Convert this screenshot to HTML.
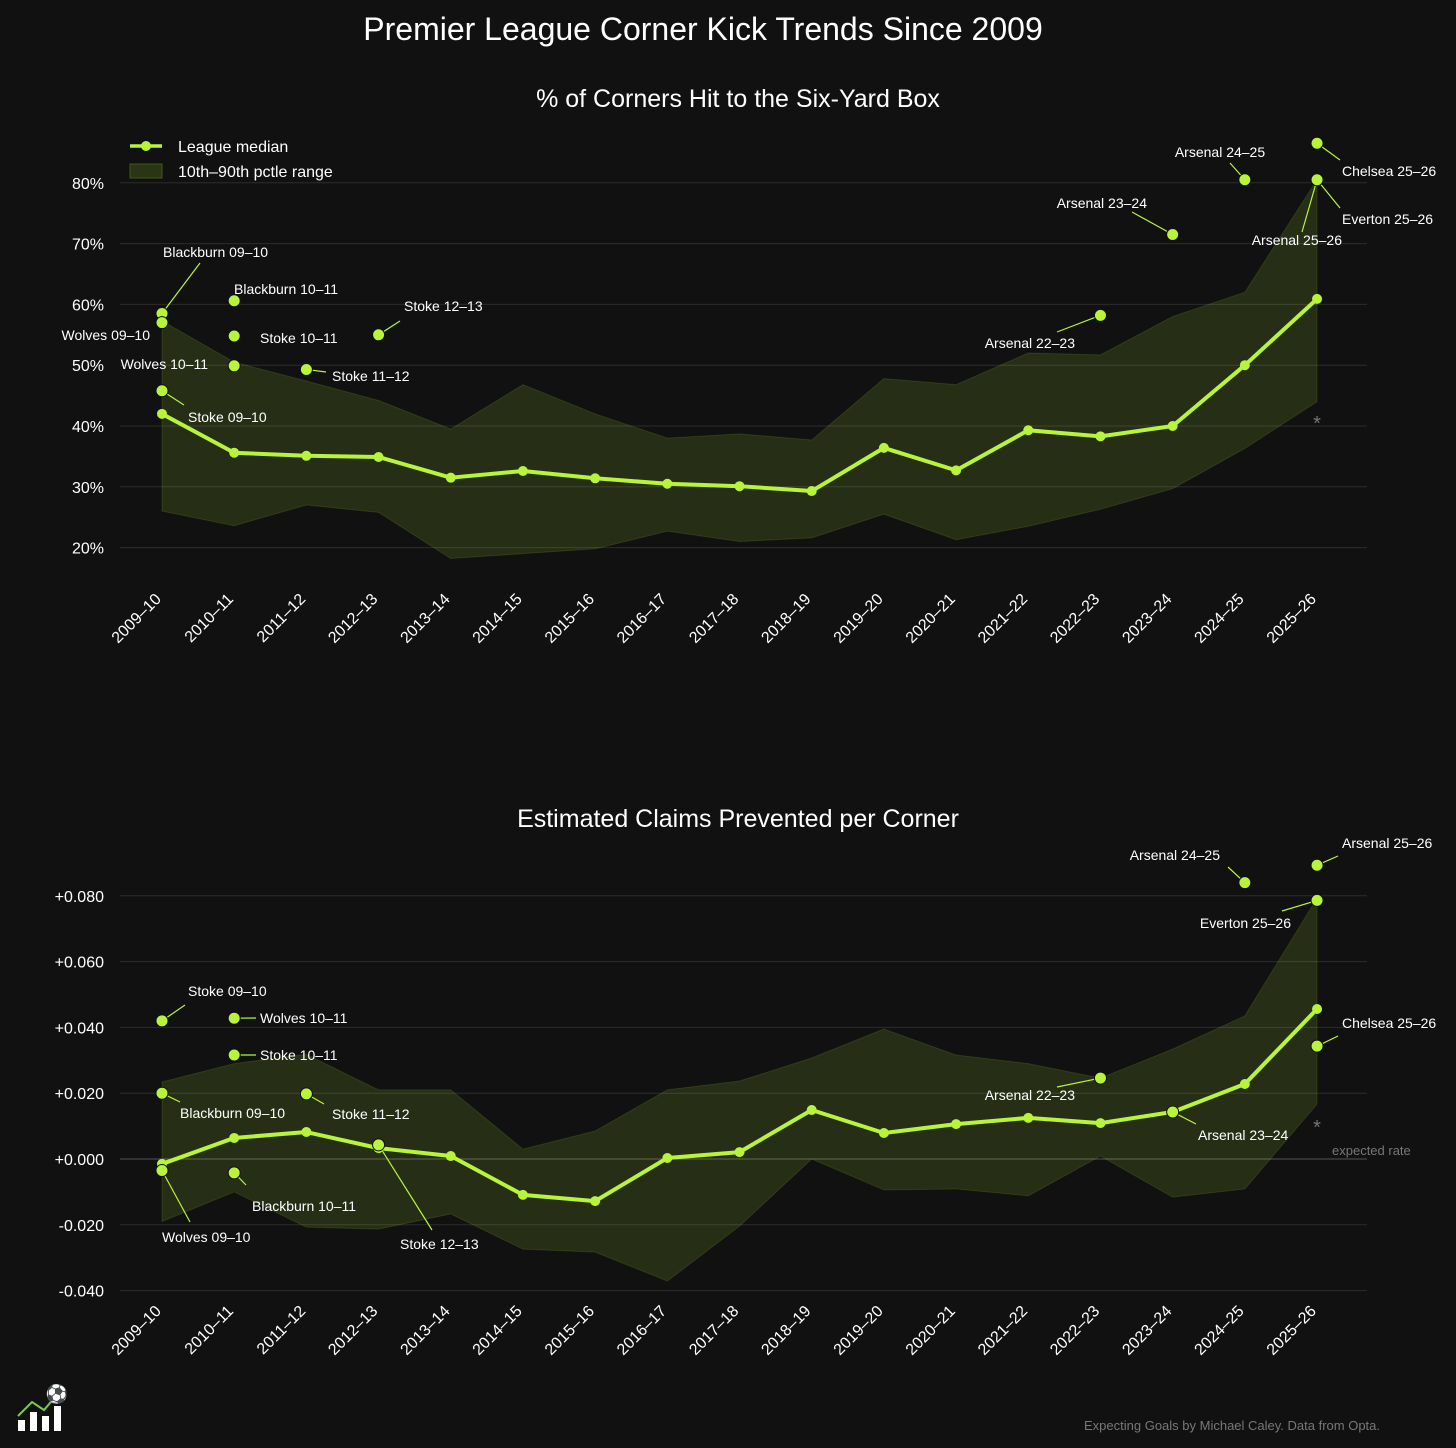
<!DOCTYPE html>
<html><head><meta charset="utf-8"><style>
html,body{margin:0;padding:0;background:#111111;}
svg{display:block;font-family:"Liberation Sans",sans-serif;}
.t{font-family:"Liberation Sans Narrow","Liberation Sans",sans-serif;fill:#fff;}
</style></head><body>
<svg id="c" width="1456" height="1448" viewBox="0 0 1456 1448" xmlns="http://www.w3.org/2000/svg">
<rect width="1456" height="1448" fill="#111111"/>
<text class="t" x="703" y="40" font-size="32" text-anchor="middle">Premier League Corner Kick Trends Since 2009</text>
<text class="t" x="738" y="107" font-size="25" text-anchor="middle">% of Corners Hit to the Six-Yard Box</text>
<text class="t" x="738" y="827" font-size="25" text-anchor="middle">Estimated Claims Prevented per Corner</text>
<g id="top"></g><g id="bot"></g>
<g>
<line x1="130" y1="146" x2="162" y2="146" stroke="#b8f53a" stroke-width="3.5"/>
<circle cx="146" cy="146" r="5" fill="#b8f53a"/>
<text x="178" y="152" fill="#fff" font-size="16">League median</text>
<rect x="130" y="164" width="32" height="14" fill="#2a3514" stroke="#45551c"/>
<text x="178" y="177" fill="#fff" font-size="16">10th–90th pctle range</text>
</g>
<text x="1380" y="1430" fill="#777" font-size="13" text-anchor="end">Expecting Goals by Michael Caley. Data from Opta.</text>
<g>
<rect x="18" y="1420" width="7" height="11" fill="#fff"/><rect x="30" y="1412" width="7" height="19" fill="#fff"/><rect x="42" y="1416" width="7" height="15" fill="#fff"/><rect x="54" y="1406" width="7" height="25" fill="#fff"/>
<polyline points="18,1416 32,1402 44,1410 56,1396" fill="none" stroke="#7ec850" stroke-width="2"/>
<text x="57" y="1400" font-size="18" text-anchor="middle" fill="#fff">⚽</text>
</g>
</svg>
<script>
const seasons=["2009–10","2010–11","2011–12","2012–13","2013–14","2014–15","2015–16","2016–17","2017–18","2018–19","2019–20","2020–21","2021–22","2022–23","2023–24","2024–25","2025–26"];
const topMedian=[42,35.6,35.1,34.9,31.5,32.6,31.4,30.5,30.1,29.3,36.4,32.7,39.3,38.3,40,50,60.9];
const topHigh=[57.3,50.5,47.4,44.2,39.5,46.8,42,38,38.7,37.7,47.8,46.8,52,51.7,58,62,80.5];
const topLow=[26,23.6,27,25.8,18.2,19,19.8,22.7,21,21.6,25.5,21.3,23.5,26.3,29.7,36.3,44];
const topTicks=[20,30,40,50,60,70,80];
const topLabels=["Blackburn 09–10","Wolves 09–10","Stoke 09–10","Blackburn 10–11","Stoke 10–11","Wolves 10–11","Stoke 11–12","Stoke 12–13","Arsenal 22–23","Arsenal 23–24","Arsenal 24–25","Chelsea 25–26","Everton 25–26","Arsenal 25–26"];
const topLabelIdx=[0,0,0,1,1,1,2,3,13,14,15,16,16,16];
const topLabelVal=[58.5,57,45.8,60.6,54.8,49.9,49.3,55,58.2,71.5,80.5,86.5,80.5,80.5];
const topLabelPos=[[163,257,"start",200,263],[150,340,"end",null],[188,422,"start",184,405],[234,294,"start",null],[260,343,"start",null],[208,369,"end",null],[332,381,"start",326,372],[404,311,"start",400,321],[1075,348,"end",1057,332],[1147,208,"end",1132,212],[1220,157,"middle",1230,163],[1342,176,"start",1340,160],[1342,224,"start",1340,208],[1342,245,"end",1302,232]];

const botMedian=[-0.0015,0.0064,0.0082,0.0033,0.0009,-0.0109,-0.0128,0.0003,0.0021,0.0149,0.0079,0.0106,0.0125,0.0109,0.0143,0.0228,0.0456];
const botHigh=[0.0234,0.029,0.0318,0.021,0.021,0.003,0.0085,0.021,0.0237,0.0307,0.0395,0.0316,0.029,0.0246,0.0334,0.0435,0.0793];
const botLow=[-0.019,-0.010,-0.0207,-0.0213,-0.0167,-0.0274,-0.0283,-0.0371,-0.0204,0,-0.0094,-0.0091,-0.0112,0.0009,-0.0116,-0.0091,0.0167];
const botTicks=[-0.04,-0.02,0,0.02,0.04,0.06,0.08];
const botLabels=["Stoke 09–10","Blackburn 09–10","Wolves 09–10","Wolves 10–11","Stoke 10–11","Blackburn 10–11","Stoke 11–12","Stoke 12–13","Arsenal 22–23","Arsenal 23–24","Arsenal 24–25","Arsenal 25–26","Everton 25–26","Chelsea 25–26"];
const botLabelIdx=[0,0,0,1,1,1,2,3,13,14,15,16,16,16];
const botLabelVal=[0.042,0.020,-0.0035,0.0428,0.0316,-0.0042,0.0198,0.0043,0.0246,0.0143,0.084,0.0893,0.0786,0.0343];
const botLabelPos=[[188,996,"start",185,1005],[180,1118,"start",180,1102],[162,1242,"start",190,1222],[260,1023,"start",256,1018],[260,1060,"start",256,1055],[252,1211,"start",246,1185],[332,1119,"start",324,1104],[400,1249,"start",432,1230],[1075,1100,"end",1057,1087],[1198,1140,"start",1196,1124],[1220,860,"end",1228,867],[1342,848,"start",1338,856],[1291,928,"end",1282,911],[1342,1028,"start",1338,1036]];

const NS="http://www.w3.org/2000/svg";
function mk(p,tag,at){const e=document.createElementNS(NS,tag);for(const k in at)e.setAttribute(k,at[k]);p.appendChild(e);return e;}
const xS=i=>162+i*72.19;
function panel(g,yS,med,hi,lo,ticks,fmt,labels,lidx,lval,lpos,tickY,zeroLine){
  ticks.forEach(t=>{
    const l=mk(g,"line",{x1:120,x2:1367,y1:yS(t),y2:yS(t),stroke:(zeroLine&&t===0)?"#555":"#2c2c2c","stroke-width":1});
    
    
    const tx=mk(g,"text",{x:104,y:yS(t)+6,fill:"#fff","font-size":16,"text-anchor":"end"});
    tx.textContent=fmt(t);
    
    
  });
  let d="";
  hi.forEach((v,i)=>{d+=(i?"L":"M")+xS(i)+","+yS(v);});
  for(let i=lo.length-1;i>=0;i--)d+="L"+xS(i)+","+yS(lo[i]);
  const band=mk(g,"path",{d:d+"Z",fill:"#b8f53a","fill-opacity":0.13,stroke:"#b8f53a","stroke-opacity":0.12});
  
  
  const ln=mk(g,"polyline",{points:med.map((v,i)=>xS(i)+","+yS(v)).join(" "),fill:"none",stroke:"#b8f53a","stroke-width":4,"stroke-linejoin":"round"});
  
  
  med.forEach((v,i)=>{
    const c=mk(g,"circle",{cx:xS(i),cy:yS(v),r:5,fill:"#b8f53a"});
    
    
  });
  seasons.forEach((s,i)=>{
    const x=xS(i),y=tickY;
    const tx=mk(g,"text",{x:x,y:y,fill:"#fff","font-size":16,"text-anchor":"end",transform:`rotate(-45 ${x} ${y})`,"font-family":"Liberation Sans Narrow, Liberation Sans, sans-serif"});
    tx.textContent=s;
    
    
  });
  labels.forEach((lb,k)=>{
    const px=xS(lidx[k]),py=yS(lval[k]),p=lpos[k];
    if(p[3]!=null){
      const l=mk(g,"line",{x1:px,y1:py,x2:p[3],y2:p[4],stroke:"#b8f53a","stroke-width":1.2});
      
      
    }
    const c=mk(g,"circle",{cx:px,cy:py,r:6,fill:"#b8f53a",stroke:"#111","stroke-width":1});
    
    
    const tx=mk(g,"text",{x:p[0],y:p[1],fill:"#fff","font-size":14,"text-anchor":p[2]});
    tx.textContent=lb;
    
    
  });
}
const yT=v=>426-(v-40)*6.08;
const yB=v=>1159-v*3290;
panel(document.getElementById("top"),yT,topMedian,topHigh,topLow,topTicks,t=>t+"%",topLabels,topLabelIdx,topLabelVal,topLabelPos,600,false);
panel(document.getElementById("bot"),yB,botMedian,botHigh,botLow,botTicks,t=>(t>=0?"+":"")+t.toFixed(3),botLabels,botLabelIdx,botLabelVal,botLabelPos,1312,true);
const s=document.getElementById("c");
const a1=mk(s,"text",{x:1317,y:430,fill:"#777","font-size":20,"text-anchor":"middle"});a1.textContent="*";


const a2=mk(s,"text",{x:1317,y:1134,fill:"#777","font-size":20,"text-anchor":"middle"});a2.textContent="*";


const a3=mk(s,"text",{x:1332,y:1155,fill:"#777","font-size":13});a3.textContent="expected rate";


</script>
</body></html>
